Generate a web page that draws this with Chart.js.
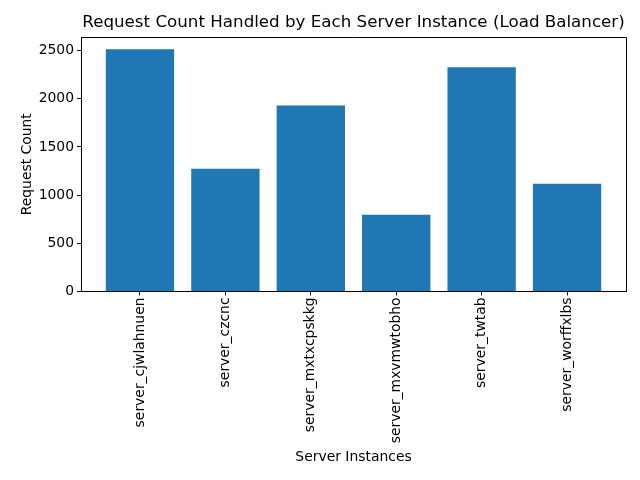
<!DOCTYPE html>
<html>
<head>
<meta charset="utf-8">
<script src="https://cdn.jsdelivr.net/npm/chart.js@4/dist/chart.umd.min.js"></script>
<style>
  html, body { margin: 0; padding: 0; background: #fff; }
  #wrap { width: 640px; height: 480px; }
</style>
</head>
<body>
<div id="wrap"><canvas id="chart-bar"></canvas></div>
<script>
var servers = ["server_cjwlahnuen", "server_czcnc", "server_mxtxcpskkg", "server_mxvmwtobho", "server_twtab", "server_worffxlbs"];
var requestCounts = [2515, 1273, 1931, 797, 2328, 1117];
var yTicks = [0, 500, 1000, 1500, 2000, 2500];

var FONT = "'DejaVu Sans', sans-serif";

// top + right spines like matplotlib
var frame = {
    id: 'frame',
    afterDraw: function(chart) {
        var a = chart.chartArea, ctx = chart.ctx;
        ctx.save();
        ctx.strokeStyle = '#000';
        ctx.lineWidth = 1;
        ctx.beginPath();
        ctx.moveTo(a.left, a.top + 0.5);
        ctx.lineTo(a.right + 0.5, a.top + 0.5);
        ctx.lineTo(a.right + 0.5, a.bottom);
        ctx.stroke();
        ctx.restore();
    }
};

var maxY = Math.max.apply(null, requestCounts) * 1.05;
var n = servers.length;
var span = (n - 1) + 0.8;

new Chart(document.getElementById('chart-bar'), {
    type: 'bar',
    data: {
        datasets: [{
            label: 'Request Count',
            data: requestCounts.map(function(v, i) { return { x: i, y: v }; }),
            backgroundColor: '#1f77b4',
            borderWidth: 0,
            inflateAmount: 0,
            barPercentage: 0.8,
            categoryPercentage: 1.0
        }]
    },
    options: {
        responsive: true,
        maintainAspectRatio: false,
        animation: false,
        layout: { padding: { left: 19, right: 14, top: 0, bottom: 14 } },
        plugins: {
            legend: { display: false },
            tooltip: { enabled: false },
            title: {
                display: true,
                fullSize: false,
                text: 'Request Count Handled by Each Server Instance (Load Balancer)',
                color: '#000',
                font: { family: FONT, size: 16.7, weight: 'normal' },
                padding: { top: 13, bottom: 4 }
            }
        },
        scales: {
            x: {
                type: 'linear',
                offset: false,
                min: -0.4 - span * 0.05,
                max: (n - 1) + 0.4 + span * 0.05,
                afterBuildTicks: function(axis) {
                    axis.ticks = servers.map(function(s, i) { return { value: i }; });
                },
                ticks: {
                    color: '#000',
                    font: { family: FONT, size: 13.9 },
                    minRotation: 90,
                    maxRotation: 90,
                    padding: 2,
                    callback: function(v) { return servers[v]; }
                },
                grid: { offset: false, drawOnChartArea: false, drawTicks: true, tickLength: 4, color: '#000' },
                border: { color: '#000', width: 1 },
                title: {
                    display: true,
                    text: 'Server Instances',
                    color: '#000',
                    font: { family: FONT, size: 13.9 },
                    padding: { top: 4, bottom: 0 }
                }
            },
            y: {
                min: 0,
                max: maxY,
                afterBuildTicks: function(axis) {
                    axis.ticks = yTicks.map(function(v) { return { value: v }; });
                },
                ticks: {
                    color: '#000',
                    font: { family: FONT, size: 13.9 },
                    padding: 3,
                    callback: function(v) { return String(v); }
                },
                grid: { drawOnChartArea: false, drawTicks: true, tickLength: 4, color: '#000' },
                border: { color: '#000', width: 1 },
                title: {
                    display: true,
                    text: 'Request Count',
                    color: '#000',
                    font: { family: FONT, size: 13.9 },
                    padding: { top: 0, bottom: 0 }
                }
            }
        }
    },
    plugins: [frame]
});
</script>
</body>
</html>
